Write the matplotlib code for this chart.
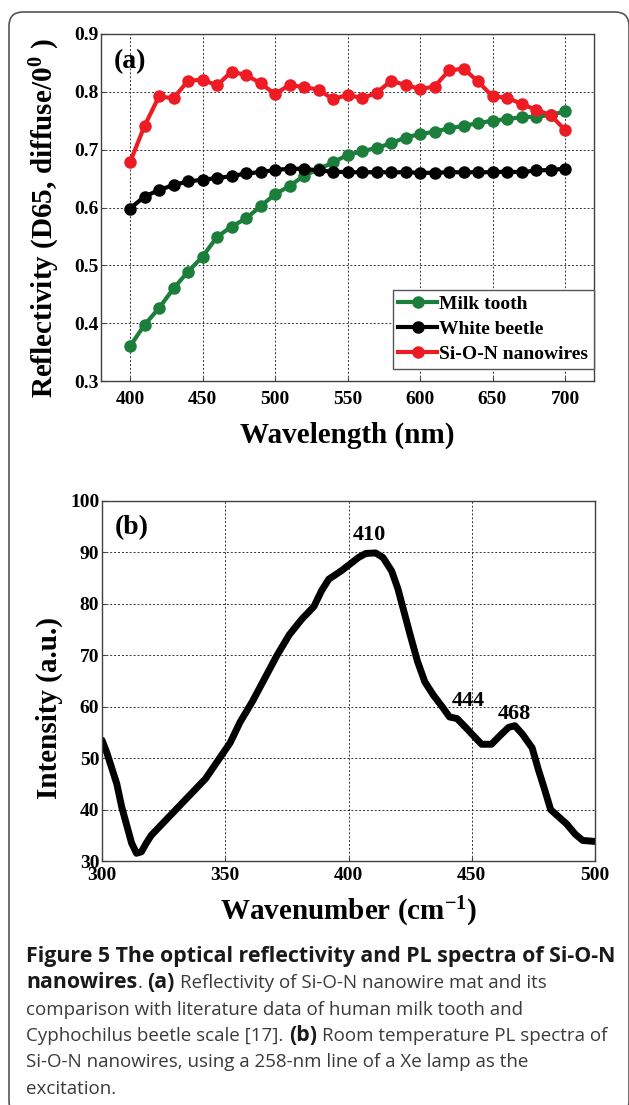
import matplotlib
matplotlib.use("Agg")
import matplotlib.pyplot as plt
from matplotlib.patches import FancyBboxPatch
from matplotlib.transforms import IdentityTransform

plt.rcParams['font.family'] = 'Liberation Serif'
plt.rcParams['font.weight'] = 'bold'
plt.rcParams['axes.labelweight'] = 'bold'
plt.rcParams['mathtext.fontset'] = 'custom'
plt.rcParams['mathtext.rm'] = 'Liberation Serif:bold'
plt.rcParams['mathtext.bf'] = 'Liberation Serif:bold'
plt.rcParams['mathtext.default'] = 'bf'

# (a) reflectivity data
wavelength = [400, 410, 420, 430, 440, 450, 460, 470, 480, 490, 500,
              510, 520, 530, 540, 550, 560, 570, 580, 590, 600,
              610, 620, 630, 640, 650, 660, 670, 680, 690, 700]
milk_tooth = [0.360, 0.397, 0.426, 0.460, 0.489, 0.515, 0.549, 0.567, 0.581, 0.602, 0.623,
              0.637, 0.655, 0.666, 0.678, 0.691, 0.697, 0.703, 0.711, 0.721, 0.727,
              0.731, 0.737, 0.741, 0.746, 0.750, 0.753, 0.756, 0.757, 0.760, 0.766]
white_beetle = [0.598, 0.619, 0.630, 0.639, 0.645, 0.648, 0.651, 0.654, 0.659, 0.661, 0.665,
                0.667, 0.667, 0.664, 0.662, 0.661, 0.661, 0.661, 0.661, 0.661, 0.660,
                0.660, 0.661, 0.661, 0.661, 0.661, 0.662, 0.661, 0.664, 0.665, 0.667]
si_o_n = [0.678, 0.741, 0.792, 0.789, 0.819, 0.821, 0.811, 0.835, 0.829, 0.815, 0.796,
          0.812, 0.808, 0.804, 0.787, 0.795, 0.789, 0.798, 0.819, 0.812, 0.805,
          0.809, 0.837, 0.840, 0.818, 0.792, 0.790, 0.779, 0.769, 0.760, 0.734]
series_names = ['Milk tooth', 'White beetle', 'Si-O-N nanowires']
series_colors = ['#1b7f3b', '#000000', '#ed1c24']

# (b) PL spectrum
pl_x = [300, 302, 304, 306, 308, 310, 312, 314, 316, 318, 320, 324, 330, 336, 342,
        347, 352, 356, 361, 366, 371, 376, 381, 386, 389, 392, 397, 400, 404, 407,
        411, 414, 417.5, 420, 422.5, 425, 428, 431, 434.5, 438, 441, 444, 447.5,
        451, 454, 458, 461.5, 465, 467.5, 470.5, 474.5, 477, 479.5, 482, 485,
        488.5, 492, 495, 500]
pl_y = [53.5, 51, 48, 45, 40.5, 37, 33.5, 31.5, 31.8, 33.5, 35, 37, 40, 43, 46,
        49.5, 53, 57, 61, 65.5, 70, 74, 77, 79.5, 82.5, 84.8, 86.4, 87.5, 89, 89.8,
        89.9, 89, 86.4, 83, 78.5, 74, 68.8, 64.8, 62.2, 60, 58, 57.7, 56,
        54.2, 52.7, 52.7, 54.4, 56, 56.3, 54.7, 52, 47.8, 44, 40, 38.7,
        37.2, 35.2, 34, 33.8]
peak_labels = ['410', '444', '468']
peak_pos = [(408.5, 93.3), (448.4, 61.2), (467.2, 58.6)]

W, H = 629, 1105
fig = plt.figure(figsize=(W / 100, H / 100), dpi=100)


def px_axes(l, t, r, b):
    return fig.add_axes([l / W, 1 - b / H, (r - l) / W, (b - t) / H])


def style_axes(ax, xpad):
    for s in ax.spines.values():
        s.set_color('#404040')
        s.set_linewidth(1)
    ax.tick_params(direction='in', length=3, width=0.8, labelsize=14, color='#404040')
    ax.tick_params(axis='x', pad=xpad)
    ax.tick_params(axis='y', pad=2)
    ax.grid(True, color='#333333', linestyle=(0, (2, 2)), linewidth=0.7)
    ax.set_axisbelow(True)


# ---- panel (a)
ax1 = px_axes(101, 34, 594, 381)
for y, c, name in zip([milk_tooth, white_beetle, si_o_n], series_colors, series_names):
    ax1.plot(wavelength, y, '-o', color=c, lw=3, ms=8, label=name)
ax1.set_xlim(380, 720)
ax1.set_ylim(0.3, 0.9)
ax1.set_xticks([400, 450, 500, 550, 600, 650, 700])
ax1.set_yticks([0.3, 0.4, 0.5, 0.6, 0.7, 0.8, 0.9])
ax1.set_yticklabels(['0.3', '0.4', '0.5', '0.6', '0.7', '0.8', '0.9'])
style_axes(ax1, 7)
ax1.set_xlabel('Wavelength (nm)', fontsize=21, labelpad=10)
ax1.set_ylabel(r'Reflectivity (D65, diffuse/0$^{0}$ )', fontsize=21)
ax1.yaxis.set_label_coords(-0.08, 0.47)
ax1.text(0.059, 0.919, '(a)', transform=ax1.transAxes, fontsize=20,
         ha='center', va='center')
leg = ax1.legend(loc='lower right', bbox_to_anchor=(1.0, 0.035), borderaxespad=0,
                 fontsize=14, handlelength=2.0, handletextpad=0.1, borderpad=0.3,
                 labelspacing=0.38, fancybox=False, edgecolor='#555555',
                 framealpha=1, numpoints=1)
leg.get_frame().set_linewidth(1)

# ---- panel (b)
ax2 = px_axes(102, 501, 595, 861)
ax2.plot(pl_x, pl_y, color='black', lw=5, solid_capstyle='round', solid_joinstyle='round')
ax2.set_xlim(300, 500)
ax2.set_ylim(30, 100)
ax2.set_xticks([300, 350, 400, 450, 500])
ax2.set_yticks([30, 40, 50, 60, 70, 80, 90, 100])
style_axes(ax2, 4)
ax2.set_xlabel(r'Wavenumber (cm$^{-1}$)', fontsize=21, labelpad=8)
ax2.set_ylabel('Intensity (a.u.)', fontsize=21)
ax2.yaxis.set_label_coords(-0.08, 0.425)
ax2.text(0.061, 0.925, '(b)', transform=ax2.transAxes, fontsize=20,
         ha='center', va='center')
for lab, (px, py) in zip(peak_labels, peak_pos):
    ax2.text(px, py, lab, fontsize=16, ha='center', va='center')

# ---- outer frame
frame = FancyBboxPatch((9, -10), 620, H - 2, boxstyle='round,pad=0,rounding_size=14',
                       transform=IdentityTransform(), facecolor='none',
                       edgecolor='#555555', linewidth=1.2)
fig.add_artist(frame)

# ---- caption
cap_font = 'Open Sans'
renderer = fig.canvas.get_renderer()


def seg_width(s, size, weight):
    t = fig.text(0, 0, '|' + s + '|', fontsize=size, fontweight=weight, family=cap_font)
    w1 = t.get_window_extent(renderer).width
    t.set_text('||')
    w0 = t.get_window_extent(renderer).width
    t.remove()
    return w1 - w0


line1 = 'Figure 5 The optical reflectivity and PL spectra of Si-O-N'
line3 = 'comparison with literature data of human milk tooth and'
size_b = 12 * 590 / seg_width(line1, 12, 'bold')
size_n = 12 * 496 / seg_width(line3, 12, 'normal')

caption = [
    [(line1, True, False)],
    [('nanowires', True, False), ('.', False, False), ('(a)', True, True),
     ('Reflectivity of Si-O-N nanowire mat and its', False, True)],
    [(line3, False, False)],
    [('Cyphochilus beetle scale [17].', False, False), ('(b)', True, True),
     ('Room temperature PL spectra of', False, True)],
    [('Si-O-N nanowires, using a 258-nm line of a Xe lamp as the', False, False)],
    [('excitation.', False, False)],
]
baseline0, spacing = 962, 26.3
for i, segs in enumerate(caption):
    x = 26
    yb = baseline0 + i * spacing
    for s, bold, sp in segs:
        size = size_b if bold else size_n
        weight = 'bold' if bold else 'normal'
        if sp:
            x += seg_width(' ', size, weight)
        fig.text(x / W, 1 - yb / H, s, fontsize=size, fontweight=weight, family=cap_font,
                 color='#1a1a1a' if bold else '#3a3a3a', va='baseline', ha='left')
        x += seg_width(s, size, weight)

fig.savefig('out.png', dpi=100)
